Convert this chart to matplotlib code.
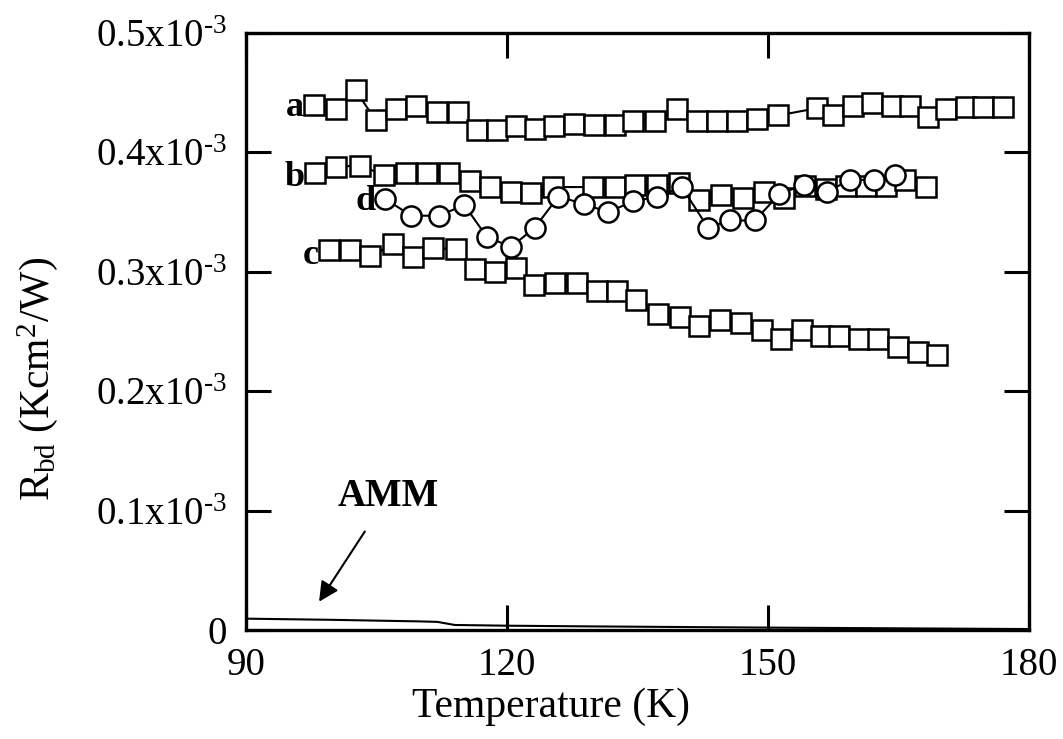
import matplotlib
matplotlib.use("Agg")
import matplotlib.pyplot as plt

plt.rcParams['font.family'] = ['Liberation Serif', 'DejaVu Serif']
plt.rcParams['mathtext.fontset'] = 'custom'
plt.rcParams['mathtext.rm'] = 'Liberation Serif'
plt.rcParams['mathtext.it'] = 'Liberation Serif:italic'
plt.rcParams['mathtext.bf'] = 'Liberation Serif:bold'

# R_bd values in units of 1e-3 K cm^2/W
a_T = [97.8, 100.4, 102.6, 104.9, 107.3, 109.6, 112.0, 114.4, 116.6, 118.9,
       121.0, 123.2, 125.4, 127.7, 130.0, 132.4, 134.5, 137.0, 139.5, 141.8,
       144.1, 146.4, 148.7, 151.2, 155.6, 157.5, 159.8, 161.9, 164.2, 166.3,
       168.4, 170.5, 172.8, 174.7, 177.0]
a_R = [0.440, 0.436, 0.452, 0.427, 0.436, 0.439, 0.434, 0.434, 0.419, 0.419,
       0.422, 0.420, 0.422, 0.424, 0.423, 0.423, 0.426, 0.426, 0.436, 0.426,
       0.426, 0.426, 0.428, 0.431, 0.437, 0.431, 0.439, 0.441, 0.439, 0.439,
       0.430, 0.436, 0.438, 0.438, 0.438]

b_T = [97.9, 100.4, 103.1, 105.9, 108.4, 110.8, 113.3, 115.7, 118.1, 120.5,
       122.8, 125.3, 129.9, 132.4, 134.7, 137.2, 139.8, 142.1, 144.6, 147.1,
       149.5, 151.8, 154.3, 156.7, 159.0, 161.3, 163.6, 165.8, 168.2]
b_R = [0.383, 0.388, 0.389, 0.381, 0.383, 0.383, 0.383, 0.376, 0.371, 0.367,
       0.366, 0.371, 0.371, 0.371, 0.373, 0.373, 0.374, 0.360, 0.364, 0.362,
       0.367, 0.362, 0.372, 0.369, 0.372, 0.372, 0.372, 0.377, 0.371]

c_T = [99.5, 101.9, 104.3, 106.9, 109.2, 111.5, 114.1, 116.3, 118.6, 121.0,
       123.1, 125.5, 128.0, 130.3, 132.7, 134.8, 137.4, 139.9, 142.1, 144.5,
       146.9, 149.3, 151.5, 153.9, 156.1, 158.2, 160.5, 162.6, 164.9, 167.3,
       169.4]
c_R = [0.318, 0.318, 0.313, 0.323, 0.312, 0.320, 0.319, 0.302, 0.300, 0.303,
       0.289, 0.291, 0.291, 0.284, 0.284, 0.276, 0.265, 0.262, 0.255, 0.260,
       0.257, 0.251, 0.244, 0.251, 0.246, 0.246, 0.244, 0.244, 0.237, 0.233,
       0.230]

d_T = [106.0, 109.0, 112.2, 115.1, 117.7, 120.5, 123.2, 125.9, 128.8, 131.6,
       134.5, 137.3, 140.1, 143.1, 145.6, 148.5, 151.3, 154.1, 156.8, 159.4,
       162.2, 164.6]
d_R = [0.361, 0.347, 0.347, 0.356, 0.329, 0.321, 0.337, 0.363, 0.357, 0.350,
       0.359, 0.363, 0.371, 0.337, 0.343, 0.343, 0.365, 0.373, 0.367, 0.377,
       0.377, 0.381]

amm_T = [90, 100, 110, 112, 114, 120, 130, 140, 150, 160, 170, 180]
amm_R = [0.0095, 0.0085, 0.0072, 0.0068, 0.0042, 0.0036, 0.0030, 0.0025,
         0.0020, 0.0016, 0.0012, 0.0008]

yticks = [0, 0.1, 0.2, 0.3, 0.4, 0.5]
ytick_labels = ['0'] + [f'{v:.1f}x10$^{{\\mathrm{{\u2010}}3}}$' for v in yticks[1:]]
xticks = [90, 120, 150, 180]

fig = plt.figure(figsize=(10.63, 7.39), dpi=100)
ax = fig.add_axes([0.2314, 0.1475, 0.7366, 0.8078])

sq = dict(marker='s', ms=14.5, mfc='white', mec='black', mew=1.8,
          color='black', lw=1.5)
ax.plot(a_T, a_R, **sq)
ax.plot(b_T, b_R, **sq)
ax.plot(c_T, c_R, **sq)
ax.plot(d_T, d_R, marker='o', ms=14.5, mfc='white', mec='black', mew=1.8,
        color='black', lw=1.5)
ax.plot(amm_T, amm_R, color='black', lw=1.5)

lab = dict(fontsize=26, fontweight='bold', ha='right', va='center')
ax.text(a_T[0] - 1.1, a_R[0] - 0.002, 'a', **lab)
ax.text(b_T[0] - 1.1, b_R[0] - 0.004, 'b', **lab)
ax.text(c_T[0] - 1.1, c_R[0] - 0.004, 'c', **lab)
ax.text(d_T[0] - 1.1, d_R[0] - 0.002, 'd', **lab)

ax.annotate('AMM', xy=(98.4, 0.0237), xytext=(106.3, 0.112),
            fontsize=28, fontweight='bold', ha='center', va='center',
            arrowprops=dict(arrowstyle='-|>', color='black', lw=1.5,
                            mutation_scale=30, shrinkA=12, shrinkB=0))

ax.set_xlim(90, 180)
ax.set_ylim(0, 0.5)
ax.set_xticks(xticks)
ax.set_yticks(yticks)
ax.set_yticklabels(ytick_labels)
ax.tick_params(direction='in', length=18, width=2.2, top=True, right=True,
               labelsize=28)
ax.tick_params(axis='x', pad=12)
ax.tick_params(axis='y', pad=14)
for s in ax.spines.values():
    s.set_linewidth(2.4)

ax.set_xlabel('Temperature (K)', fontsize=30)
ax.set_ylabel(r'R$_{\mathrm{bd}}$ (Kcm$^{\mathrm{2}}$/W)', fontsize=30)
ax.xaxis.set_label_coords(0.39, -0.097)
ax.yaxis.set_label_coords(-0.238, 0.42)

fig.savefig('out.png', dpi=100)
